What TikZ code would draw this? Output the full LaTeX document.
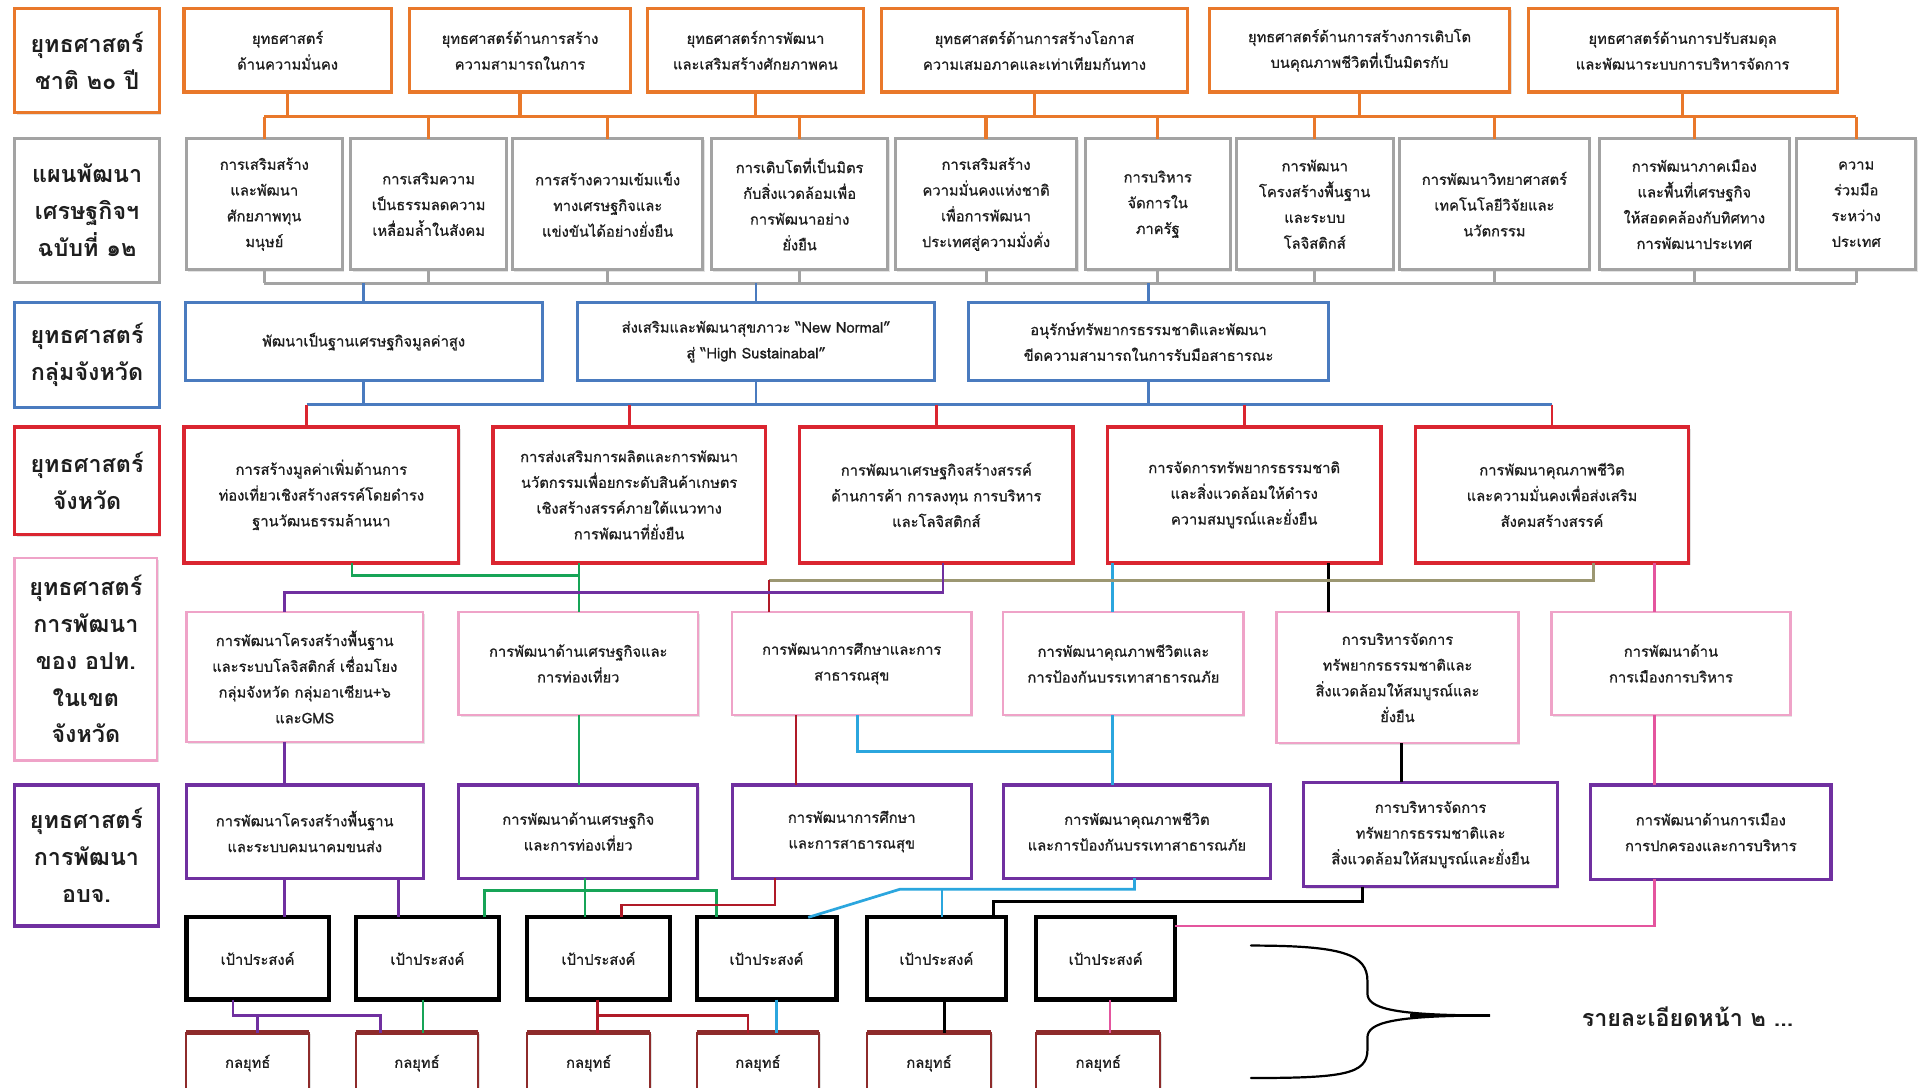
\documentclass[tikz,border=0pt]{standalone}
\usepackage{fontspec}
\setmainfont{Loma}[Script=Thai]
\newfontfamily\bxfont{Loma}[Script=Thai, FakeBold=0.8]
\usetikzlibrary{shadows}
\definecolor{cOrg}{HTML}{E9782A}
\definecolor{cGry}{HTML}{A3A3A3}
\definecolor{cBlu}{HTML}{4A7BBF}
\definecolor{cRed}{HTML}{DA2530}
\definecolor{cPnk}{HTML}{EFA3C8}
\definecolor{cMag}{HTML}{E4559E}
\definecolor{cPur}{HTML}{7030A0}
\definecolor{cGrn}{HTML}{17A457}
\definecolor{cOli}{HTML}{9C9772}
\definecolor{cDrd}{HTML}{B01A28}
\definecolor{cLbl}{HTML}{2BA6DE}
\definecolor{cStr}{HTML}{8E2B2B}
\definecolor{cTxt}{HTML}{1E1E1E}
\tikzset{
 base/.style={rectangle, fill=white, anchor=north west, inner sep=1pt, outer sep=0pt, align=center, text=cTxt, font=\bxfont\fontsize{12}{21}\selectfont, drop shadow={shadow xshift=1.5pt, shadow yshift=-1.5pt, opacity=0.22}},
 lbl/.style={font=\fontsize{19}{30}\selectfont\bfseries},
 borg/.style={base, draw=cOrg, line width=2.6pt},
 bgry/.style={base, draw=cGry, line width=2.4pt},
 bblu/.style={base, draw=cBlu, line width=2.4pt},
 bred/.style={base, draw=cRed, line width=2.8pt},
 bpnk/.style={base, draw=cPnk, line width=2pt},
 bpur/.style={base, draw=cPur, line width=2.6pt},
 bblk/.style={base, draw=black, line width=3.4pt},
 bstr/.style={base, draw=cStr, line width=1.6pt},
 con/.style={line width=2.2pt},
 corg/.style={con, draw=cOrg, line width=2.6pt},
 cgry/.style={con, draw=cGry, line width=2.4pt},
 cblu/.style={con, draw=cBlu},
 cred/.style={con, draw=cRed},
 cgrn/.style={con, draw=cGrn},
 coli/.style={con, draw=cOli, line width=2.6pt},
 cpur/.style={con, draw=cPur},
 cdrd/.style={con, draw=cDrd},
 clbl/.style={con, draw=cLbl},
 cblk/.style={con, draw=black, line width=2.6pt},
 cmag/.style={con, draw=cMag},
}
\newcommand\mybox[7]{\node[#6, minimum width={#4-#2}, minimum height={#5-#3}] (#1) at (#2,#3) {#7};}
\newcommand\vl[4]{\coordinate (vx) at (#4,0); \draw[#1] (#2 -| vx) -- (#3 -| vx);}
\begin{document}
\begin{tikzpicture}[x=1pt,y=-1pt]
\fill[white] (0,0) rectangle (1568,887);
\useasboundingbox (0,0) rectangle (1568,887);
% row labels
\mybox{L1}{12}{7}{130}{92}{borg,lbl}{ยุทธศาสตร์\\ชาติ ๒๐ ปี}
\mybox{L2}{12}{113}{130}{230}{bgry,lbl}{แผนพัฒนา\\เศรษฐกิจฯ\\ฉบับที่ ๑๒}
\mybox{L3}{12}{247}{130}{332}{bblu,lbl}{ยุทธศาสตร์\\กลุ่มจังหวัด}
\mybox{L4}{12}{348}{130}{436}{bred,lbl}{ยุทธศาสตร์\\จังหวัด}
\mybox{L5}{12}{455}{128}{620}{bpnk,lbl}{ยุทธศาสตร์\\การพัฒนา\\ของ อปท.\\ในเขต\\จังหวัด}
\mybox{L6}{12}{640}{129}{755}{bpur,lbl}{ยุทธศาสตร์\\การพัฒนา\\อบจ.}
% row 1
\mybox{T1}{150}{7}{319}{75}{borg}{ยุทธศาสตร์\\ด้านความมั่นคง}
\mybox{T2}{334}{7}{514}{75}{borg}{ยุทธศาสตร์ด้านการสร้าง\\ความสามารถในการ}
\mybox{T3}{528}{7}{704}{75}{borg}{ยุทธศาสตร์การพัฒนา\\และเสริมสร้างศักยภาพคน}
\mybox{T4}{719}{7}{968}{75}{borg}{ยุทธศาสตร์ด้านการสร้างโอกาส\\ความเสมอภาคและเท่าเทียมกันทาง}
\mybox{T5}{986}{7}{1231}{75}{borg}{ยุทธศาสตร์ด้านการสร้างการเติบโต\\บนคุณภาพชีวิตที่เป็นมิตรกับ}
\mybox{T6}{1246}{7}{1498}{75}{borg}{ยุทธศาสตร์ด้านการปรับสมดุล\\และพัฒนาระบบการบริหารจัดการ}
% row 2
\mybox{E1}{152}{113}{279}{220}{bgry}{การเสริมสร้าง\\และพัฒนา\\ศักยภาพทุน\\มนุษย์}
\mybox{E2}{286}{113}{413}{220}{bgry}{การเสริมความ\\เป็นธรรมลดความ\\เหลื่อมล้ำในสังคม}
\mybox{E3}{418}{113}{573}{220}{bgry}{การสร้างความเข้มแข็ง\\ทางเศรษฐกิจและ\\แข่งขันได้อย่างยั่งยืน}
\mybox{E4}{580}{113}{724}{220}{bgry}{การเติบโตที่เป็นมิตร\\กับสิ่งแวดล้อมเพื่อ\\การพัฒนาอย่าง\\ยั่งยืน}
\mybox{E5}{730}{113}{878}{220}{bgry}{การเสริมสร้าง\\ความมั่นคงแห่งชาติ\\เพื่อการพัฒนา\\ประเทศสู่ความมั่งคั่ง}
\mybox{E6}{885}{113}{1003}{220}{bgry}{การบริหาร\\จัดการใน\\ภาครัฐ}
\mybox{E7}{1008}{113}{1136}{220}{bgry}{การพัฒนา\\โครงสร้างพื้นฐาน\\และระบบ\\โลจิสติกส์}
\mybox{E8}{1141}{113}{1296}{220}{bgry}{การพัฒนาวิทยาศาสตร์\\เทคโนโลยีวิจัยและ\\นวัตกรรม}
\mybox{E9}{1304}{113}{1459}{220}{bgry}{การพัฒนาภาคเมือง\\และพื้นที่เศรษฐกิจ\\ให้สอดคล้องกับทิศทาง\\การพัฒนาประเทศ}
\mybox{E10}{1465}{113}{1562}{220}{bgry}{ความ\\ร่วมมือ\\ระหว่าง\\ประเทศ}
% row 3
\mybox{B1}{151}{247}{442}{310}{bblu}{พัฒนาเป็นฐานเศรษฐกิจมูลค่าสูง}
\mybox{B2}{471}{247}{762}{310}{bblu}{ส่งเสริมและพัฒนาสุขภาวะ “New Normal”\\สู่ “High Sustainabal”}
\mybox{B3}{790}{247}{1083}{310}{bblu}{อนุรักษ์ทรัพยากรธรรมชาติและพัฒนา\\ขีดความสามารถในการรับมือสาธารณะ}
% row 4
\mybox{R1}{150}{348}{374}{459}{bred}{การสร้างมูลค่าเพิ่มด้านการ\\ท่องเที่ยวเชิงสร้างสรรค์โดยดำรง\\ฐานวัฒนธรรมล้านนา}
\mybox{R2}{402}{348}{624}{459}{bred}{การส่งเสริมการผลิตและการพัฒนา\\นวัตกรรมเพื่อยกระดับสินค้าเกษตร\\เชิงสร้างสรรค์ภายใต้แนวทาง\\การพัฒนาที่ยั่งยืน}
\mybox{R3}{652}{348}{875}{459}{bred}{การพัฒนาเศรษฐกิจสร้างสรรค์\\ด้านการค้า การลงทุน การบริหาร\\และโลจิสติกส์}
\mybox{R4}{903}{348}{1126}{459}{bred}{การจัดการทรัพยากรธรรมชาติ\\และสิ่งแวดล้อมให้ดำรง\\ความสมบูรณ์และยั่งยืน}
\mybox{R5}{1154}{348}{1377}{459}{bred}{การพัฒนาคุณภาพชีวิต\\และความมั่นคงเพื่อส่งเสริม\\สังคมสร้างสรรค์}
% row 5
\mybox{P1}{152}{499}{345}{605}{bpnk}{การพัฒนาโครงสร้างพื้นฐาน\\และระบบโลจิสติกส์ เชื่อมโยง\\กลุ่มจังหวัด กลุ่มอาเซียน+๖\\และGMS}
\mybox{P2}{374}{499}{569}{583}{bpnk}{การพัฒนาด้านเศรษฐกิจและ\\การท่องเที่ยว}
\mybox{P3}{597}{499}{792}{583}{bpnk}{การพัฒนาการศึกษาและการ\\สาธารณสุข}
\mybox{P4}{818}{499}{1014}{583}{bpnk}{การพัฒนาคุณภาพชีวิตและ\\การป้องกันบรรเทาสาธารณภัย}
\mybox{P5}{1041}{499}{1238}{606}{bpnk}{การบริหารจัดการ\\ทรัพยากรธรรมชาติและ\\สิ่งแวดล้อมให้สมบูรณ์และ\\ยั่งยืน}
\mybox{P6}{1265}{499}{1460}{583}{bpnk}{การพัฒนาด้าน\\การเมืองการบริหาร}
% row 6
\mybox{U1}{152}{640}{345}{716}{bpur}{การพัฒนาโครงสร้างพื้นฐาน\\และระบบคมนาคมขนส่ง}
\mybox{U2}{374}{640}{569}{716}{bpur}{การพัฒนาด้านเศรษฐกิจ\\และการท่องเที่ยว}
\mybox{U3}{597}{640}{792}{716}{bpur}{การพัฒนาการศึกษา\\และการสาธารณสุข}
\mybox{U4}{818}{640}{1036}{716}{bpur}{การพัฒนาคุณภาพชีวิต\\และการป้องกันบรรเทาสาธารณภัย}
\mybox{U5}{1063}{638}{1270}{723}{bpur}{การบริหารจัดการ\\ทรัพยากรธรรมชาติและ\\สิ่งแวดล้อมให้สมบูรณ์และยั่งยืน}
\mybox{U6}{1297}{640}{1493}{717}{bpur}{การพัฒนาด้านการเมือง\\การปกครองและการบริหาร}
% goals
\mybox{G1}{152}{748}{268}{815}{bblk}{เป้าประสงค์}
\mybox{G2}{290}{748}{407}{815}{bblk}{เป้าประสงค์}
\mybox{G3}{430}{748}{546}{815}{bblk}{เป้าประสงค์}
\mybox{G4}{568}{748}{682}{815}{bblk}{เป้าประสงค์}
\mybox{G5}{707}{748}{820}{815}{bblk}{เป้าประสงค์}
\mybox{G6}{845}{748}{958}{815}{bblk}{เป้าประสงค์}
% strategies
\mybox{S1}{152}{842}{252}{892}{bstr}{กลยุทธ์}
\mybox{S2}{290}{842}{390}{892}{bstr}{กลยุทธ์}
\mybox{S3}{430}{842}{530}{892}{bstr}{กลยุทธ์}
\mybox{S4}{568}{842}{668}{892}{bstr}{กลยุทธ์}
\mybox{S5}{707}{842}{808}{892}{bstr}{กลยุทธ์}
\mybox{S6}{845}{842}{946}{892}{bstr}{กลยุทธ์}
\foreach \n in {S1,S2,S3,S4,S5,S6} \draw[cStr, line width=4pt] (\n.north west) -- (\n.north east);
% orange bus
\coordinate (oL) at (215.5,95); \coordinate (oR) at (1513.5,95);
\draw[corg] (oL) -- (oR);
\foreach \n in {T1,T2,T3,T4,T5,T6} \draw[corg] (\n.south) -- (\n.south |- oL);
\foreach \n in {E1,E2,E3,E4,E5,E6,E7,E8,E9,E10} \draw[corg] (\n.north |- oL) -- (\n.north);
% gray bus
\coordinate (gL) at (215.5,231); \coordinate (gR) at (1513.5,231);
\draw[cgry] (gL) -- (gR);
\foreach \n in {E1,E2,E3,E4,E5,E6,E7,E8,E9,E10} \draw[cgry] (\n.south) -- (\n.south |- gL);
\foreach \n in {B1,B2,B3} \draw[cblu] (\n.north |- gL) -- (\n.north);
% blue bus
\coordinate (bL) at (250,330); \coordinate (bR) at (1265.5,330);
\draw[cblu] (bL) -- (bR);
\foreach \n in {B1,B2,B3} \draw[cblu] (\n.south) -- (\n.south |- bL);
\draw[cred] (bL) -- (R1.north -| bL);
\foreach \n in {R2,R3,R4,R5} \draw[cred] (\n.north |- bL) -- (\n.north);
% row 4 -> row 5
\vl{clbl}{R4.south}{P4.north}{907}
\vl{cblk}{R4.south}{P5.north}{1083}
\vl{cmag}{R5.south}{P6.north}{1349}
\coordinate (g1) at (287,469); \coordinate (g2) at (472,469);
\draw[cgrn] (R1.south -| g1) -- (g1) -- (g2);
\draw[cgrn] (R2.south -| g2) -- (P2.north -| g2);
\coordinate (o1) at (1299,473); \coordinate (o2) at (627,473);
\draw[coli] (R5.south -| o1) -- (o1) -- (o2);
\draw[cdrd] (o2) -- (P3.north -| o2);
\coordinate (u1) at (769,483); \coordinate (u2) at (232,483);
\draw[cpur] (R3.south -| u1) -- (u1) -- (u2) -- (P1.north -| u2);
% row 5 -> row 6
\vl{cpur}{P1.south}{U1.north}{232}
\vl{cgrn}{P2.south}{U2.north}{472}
\vl{cdrd}{P3.south}{U3.north}{649}
\coordinate (lb1) at (699,613); \coordinate (lb2) at (907,613);
\draw[clbl] (P3.south -| lb1) -- (lb1) -- (lb2);
\vl{clbl}{P4.south}{U4.north}{907}
\vl{cblk}{P5.south}{U5.north}{1143}
\vl{cmag}{P6.south}{U6.north}{1349}
% row 6 -> goals
\vl{cpur}{U1.south}{G1.north}{232}
\vl{cpur}{U1.south}{G2.north}{325}
\coordinate (gg1) at (395,726); \coordinate (gg2) at (584,726); \coordinate (gg3) at (477,726);
\draw[cgrn] (U2.south -| gg3) -- (gg3) -- (G3.north -| gg3);
\draw[cgrn] (G2.north -| gg1) -- (gg1) -- (gg2) -- (G4.north -| gg2);
\coordinate (dr1) at (632,738); \coordinate (dr2) at (507,738);
\draw[cdrd] (U3.south -| dr1) -- (dr1) -- (dr2) -- (G3.north -| dr2);
\coordinate (bb1) at (925,725); \coordinate (bb2) at (734,725); \coordinate (bb3) at (768,725); \coordinate (bb4) at (659,0);
\draw[clbl] (U4.south -| bb1) -- (bb1) -- (bb2) -- (G4.north -| bb4);
\draw[clbl] (bb3) -- (G5.north -| bb3);
\coordinate (bk1) at (1111,735); \coordinate (bk2) at (810,735);
\draw[cblk] (U5.south -| bk1) -- (bk1) -- (bk2) -- (G5.north -| bk2);
\coordinate (pk1) at (1349,755);
\draw[cmag] (U6.south -| pk1) -- (pk1) -- (G6.east |- pk1);
% goals -> strategies
\coordinate (q1) at (190,828); \coordinate (q2) at (310,828); \coordinate (q3) at (210,828);
\draw[cpur] (G1.south -| q1) -- (q1) -- (q2) -- (S2.north -| q2);
\draw[cpur] (q3) -- (S1.north -| q3);
\vl{cgrn}{G2.south}{S2.north}{345}
\coordinate (q4) at (487,828); \coordinate (q5) at (610,828);
\draw[cdrd] (G3.south -| q4) -- (q4) -- (q5) -- (S4.north -| q5);
\draw[cdrd] (q4) -- (S3.north -| q4);
\vl{clbl}{G4.south}{S4.north}{633}
\vl{cblk}{G5.south}{S5.north}{770}
\vl{cmag}{G6.south}{S6.north}{905}
% brace and note
\draw[line width=1.8pt, line cap=round] (1020,771) .. controls (1095,771) and (1115,778) .. (1115,800) -- (1115,810) .. controls (1115,822) and (1135,828) .. (1215,828) .. controls (1135,828) and (1115,834) .. (1115,846) -- (1115,856) .. controls (1115,876) and (1095,879) .. (1020,879);
\draw[line width=3pt] (1150,828) -- (1215,828);
\node[font=\fontsize{19}{24}\selectfont\bfseries, text=cTxt] (more) at (1376,829) {รายละเอียดหน้า ๒ ...};
\end{tikzpicture}
\end{document}
